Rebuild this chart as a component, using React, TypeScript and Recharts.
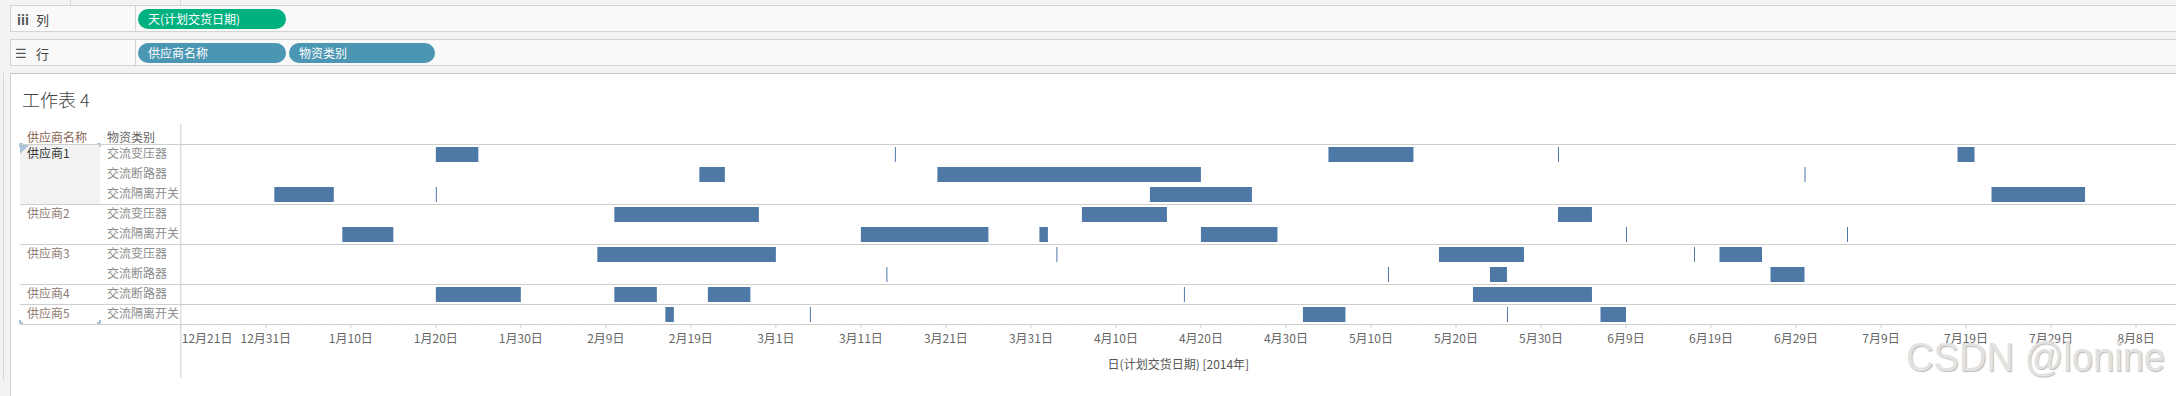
import React from 'react';
import { BarChart, Bar, XAxis, YAxis } from 'recharts';

const suppliers = ['供应商1', '供应商1', '供应商1', '供应商2', '供应商2', '供应商3', '供应商3', '供应商4', '供应商5'];
const categories = ['交流变压器', '交流断路器', '交流隔离开关', '交流变压器', '交流隔离开关', '交流变压器', '交流断路器', '交流断路器', '交流隔离开关'];

// planned delivery start per row and how many days each task lasts (0 = single day mark)
const taskStarts = [
  ['2014-01-20', '2014-03-15', '2014-05-05', '2014-06-01', '2014-07-18'],
  ['2014-02-20', '2014-03-20', '2014-06-30'],
  ['2014-01-01', '2014-01-20', '2014-04-14', '2014-07-22'],
  ['2014-02-10', '2014-04-06', '2014-06-01'],
  ['2014-01-09', '2014-03-11', '2014-04-01', '2014-04-20', '2014-06-09', '2014-07-05'],
  ['2014-02-08', '2014-04-03', '2014-05-18', '2014-06-17', '2014-06-20'],
  ['2014-03-14', '2014-05-12', '2014-05-24', '2014-06-26'],
  ['2014-01-20', '2014-02-10', '2014-02-21', '2014-04-18', '2014-05-22'],
  ['2014-02-16', '2014-03-05', '2014-05-02', '2014-05-26', '2014-06-06'],
];
const taskDays = [
  [5, 0, 10, 0, 2],
  [3, 31, 0],
  [7, 0, 12, 11],
  [17, 10, 4],
  [6, 15, 1, 9, 0, 0],
  [21, 0, 10, 0, 5],
  [0, 0, 2, 4],
  [10, 5, 5, 0, 14],
  [1, 0, 5, 0, 3],
];

const tickLabels = ['12月21日', '12月31日', '1月10日', '1月20日', '1月30日', '2月9日', '2月19日', '3月1日', '3月11日', '3月21日', '3月31日', '4月10日', '4月20日', '4月30日', '5月10日', '5月20日', '5月30日', '6月9日', '6月19日', '6月29日', '7月9日', '7月19日', '7月29日', '8月8日'];

const W = 2176;
const H = 396;
const PLOT_TOP = 144;
const PLOT_BOTTOM = 324;
const PLOT_LEFT = 180.8;
const ROW_H = (PLOT_BOTTOM - PLOT_TOP) / categories.length;
const X_END = 234.7;

const dayOf = (s: string) => {
  const [y, m, d] = s.split('-').map(Number);
  return (Date.UTC(y, m - 1, d) - Date.UTC(2013, 11, 21)) / 86400000;
};

const labelDay = (label: string) => {
  const [m, d] = label.replace('日', '').split('月').map(Number);
  return dayOf(`${m === 12 ? 2013 : 2014}-${m}-${d}`);
};

const majorTicks = new Map(tickLabels.map((l) => [labelDay(l), l]));
const allTicks: number[] = [];
for (let d = 0; d <= X_END; d += 2) allTicks.push(d);

const maxSegs = Math.max(...taskStarts.map((r) => r.length));
const segKeys = Array.from({ length: maxSegs }, (_, j) => 's' + j);

const chartData = categories.map((category, i) => {
  const row: any = { key: i, category, supplier: suppliers[i] };
  taskStarts[i].forEach((s, j) => {
    const a = dayOf(s);
    row['s' + j] = [a, a + taskDays[i][j]];
  });
  return row;
});

const cjk = '"Noto Sans CJK SC", "Noto Sans", sans-serif';

const DateTick = (props: any) => {
  const { x, y, payload, index } = props;
  const label = majorTicks.get(payload.value);
  return (
    <g>
      <line x1={x} x2={x} y1={y} y2={y + (label ? 4 : 2)} stroke={label ? '#cfcfcf' : '#e4e4e4'} />
      {label && (
        <text x={index === 0 ? x + 1 : x} y={y + 10} dy="0.71em" textAnchor={index === 0 ? 'start' : 'middle'} fontSize={12} fill="#666" fontFamily={cjk}>
          {label}
        </text>
      )}
    </g>
  );
};

const RowTick = (props: any) => {
  const { y, payload } = props;
  const i = payload.value;
  const first = i === 0 || suppliers[i] !== suppliers[i - 1];
  return (
    <g>
      {first && (
        <text x={27} y={y} dy="0.36em" fontSize={12} fill={i === 0 ? '#333' : '#8f7b72'} fontFamily={cjk}>
          {suppliers[i]}
        </text>
      )}
      <text x={107} y={y} dy="0.36em" fontSize={12} fill="#8c8c8c" fontFamily={cjk}>
        {categories[i]}
      </text>
    </g>
  );
};

const Pill = ({ x, y, w, color, text }: { x: number; y: number; w: number; color: string; text: string }) => (
  <div style={{ position: 'absolute', left: x, top: y, width: w, height: 20, borderRadius: 10, background: color, color: '#fff', fontSize: 12, lineHeight: '20px', paddingLeft: 10, boxSizing: 'border-box' }}>
    {text}
  </div>
);

const groupLines = suppliers
  .map((s, i) => (i > 0 && s !== suppliers[i - 1] ? PLOT_TOP + i * ROW_H : null))
  .filter((v) => v !== null) as number[];

export default function App() {
  return (
    <div style={{ position: 'absolute', left: 0, top: 0, width: W, height: H, background: '#f3f3f3', fontFamily: cjk, overflow: 'hidden' }}>
      {/* shelves */}
      <div style={{ position: 'absolute', left: 70, top: 0, width: 1, height: 5, background: '#d6d6d6' }} />
      <div style={{ position: 'absolute', left: 180, top: 0, width: 1, height: 5, background: '#d6d6d6' }} />
      <div style={{ position: 'absolute', left: 10, top: 5, width: W - 10, height: 27, background: '#f9f9f9', border: '1px solid #d4d4d4', borderRight: 'none', boxSizing: 'border-box' }} />
      <div style={{ position: 'absolute', left: 10, top: 39, width: W - 10, height: 27, background: '#f9f9f9', border: '1px solid #d4d4d4', borderRight: 'none', boxSizing: 'border-box' }} />
      <div style={{ position: 'absolute', left: 135, top: 5, width: 1, height: 61, background: '#d4d4d4' }} />
      <div style={{ position: 'absolute', left: 135, top: 32, width: 1, height: 7, background: '#f3f3f3' }} />
      <div style={{ position: 'absolute', left: 17, top: 10, fontSize: 13, fontWeight: 700, color: '#555', letterSpacing: 0 }}>iii</div>
      <div style={{ position: 'absolute', left: 36, top: 10, fontSize: 13, color: '#444' }}>列</div>
      <div style={{ position: 'absolute', left: 15, top: 43, fontSize: 13, color: '#555' }}>☰</div>
      <div style={{ position: 'absolute', left: 36, top: 44, fontSize: 13, color: '#444' }}>行</div>
      <Pill x={138} y={9} w={148} color="#00b180" text="天(计划交货日期)" />
      <Pill x={138} y={43} w={148} color="#4a96b3" text="供应商名称" />
      <Pill x={289} y={43} w={146} color="#4a96b3" text="物资类别" />

      {/* sheet panel */}
      <div style={{ position: 'absolute', left: 3, top: 73, width: 1, height: 307, background: '#d6d6d6' }} />
      <div style={{ position: 'absolute', left: 10, top: 73, width: W - 10, height: H - 73, background: '#fff', borderTop: '1px solid #c4c4c4', borderLeft: '1px solid #cfcfcf', boxSizing: 'border-box' }} />
      <div style={{ position: 'absolute', left: 22, top: 86, fontSize: 18, color: '#444', fontWeight: 300 }}>工作表 4</div>
      <div style={{ position: 'absolute', left: 27, top: 128, fontSize: 12, color: '#8a6656' }}>供应商名称</div>
      <div style={{ position: 'absolute', left: 107, top: 128, fontSize: 12, color: '#666' }}>物资类别</div>

      <svg width={W} height={H} style={{ position: 'absolute', left: 0, top: 0 }}>
        <rect x={20} y={PLOT_TOP} width={80} height={ROW_H * 3} fill="#f2f2f2" />
        <path d={`M20 ${PLOT_TOP} h10 L20 ${PLOT_TOP + 10} Z`} fill="#a9c4dc" />
        <path d={`M20 ${PLOT_TOP + 3} v-3 h3 M97 ${PLOT_TOP} h3 v3 M20 ${PLOT_BOTTOM - 4} v3 h3 M97 ${PLOT_BOTTOM - 1} h3 v-3`} stroke="#8fb3d3" strokeWidth={1.5} fill="none" />
        <line x1={20} x2={W} y1={PLOT_TOP + 0.5} y2={PLOT_TOP + 0.5} stroke="#cfcfcf" />
        {groupLines.map((y) => (
          <line key={y} x1={20} x2={W} y1={y + 0.5} y2={y + 0.5} stroke="#cfcfcf" />
        ))}
        <line x1={20} x2={W} y1={PLOT_BOTTOM + 0.5} y2={PLOT_BOTTOM + 0.5} stroke="#cfcfcf" />
        <line x1={PLOT_LEFT} x2={PLOT_LEFT} y1={124} y2={378} stroke="#cfcfcf" />
      </svg>

      <div style={{ position: 'absolute', left: 0, top: 0 }}>
        <BarChart width={W} height={H} data={chartData} layout="vertical" barSize={15} margin={{ top: PLOT_TOP, right: 0, left: 10, bottom: 22 }}>
          <XAxis
            type="number"
            domain={[0, X_END]}
            allowDataOverflow
            ticks={allTicks}
            interval={0}
            tick={<DateTick />}
            tickLine={false}
            tickSize={0}
            tickMargin={0}
            axisLine={false}
            height={50}
            label={{ value: '日(计划交货日期) [2014年]', position: 'insideBottom', offset: 5, fontSize: 12, fill: '#555', fontFamily: cjk }}
          />
          {segKeys.map((k, j) => (
            <YAxis
              key={k}
              yAxisId={k}
              type="category"
              dataKey="key"
              hide={j !== 0}
              width={PLOT_LEFT - 10}
              axisLine={false}
              tickLine={false}
              tick={<RowTick />}
              interval={0}
            />
          ))}
          {segKeys.map((k) => (
            <Bar key={k} dataKey={k} yAxisId={k} fill="#4e79a7" minPointSize={1} isAnimationActive={false} />
          ))}
        </BarChart>
      </div>

      <div style={{ position: 'absolute', left: 1906, top: 334, fontSize: 41, fontFamily: '"Liberation Sans", Arial, sans-serif', color: '#e2e2e2', textShadow: '1px 1px 1px #b9b9b9', transform: 'scaleX(0.93)', transformOrigin: 'left top', whiteSpace: 'nowrap' }}>
        CSDN @lonine
      </div>
    </div>
  );
}
